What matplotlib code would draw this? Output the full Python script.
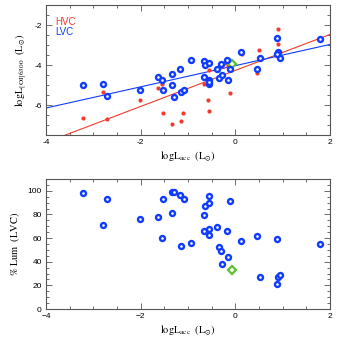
import matplotlib
matplotlib.use("Agg")
import matplotlib.pyplot as plt
import numpy as np
from matplotlib.ticker import MultipleLocator, FuncFormatter

plt.rcParams['mathtext.fontset'] = 'stix'
plt.rcParams['font.family'] = ['Liberation Sans', 'DejaVu Sans']

# ---- data ----
# LVC: log L_acc, log L[OI]6300 (LVC), % Lum (LVC)
lvc_lacc = [-3.21, -2.79, -2.72, -2.02, -1.64, -1.54, -1.52, -1.33, -1.33, -1.29,
            -1.16, -1.14, -1.09, -0.94, -0.67, -0.64, -0.67, -0.56, -0.56, -0.56,
            -0.56, -0.39, -0.35, -0.30, -0.28, -0.17, -0.16, -0.12, 0.11, 0.46,
            0.52, 0.88, 0.90, 0.94, 0.88, 1.79]
lvc_loi = [-4.99, -4.94, -5.57, -5.25, -4.61, -4.74, -5.26, -4.45, -4.99, -5.60,
           -4.20, -5.36, -5.26, -3.73, -3.81, -3.98, -4.59, -3.92, -4.74, -4.96,
           -4.85, -4.20, -4.66, -3.95, -4.49, -3.75, -4.76, -4.22, -3.36, -4.20,
           -3.65, -2.64, -3.36, -3.65, -3.44, -2.69]
lvc_pct = [97.8, 70.8, 93.3, 75.8, 77.5, 60.1, 93.3, 81.5, 98.6, 98.9,
           96.6, 53.7, 92.7, 56.2, 79.5, 87.1, 66.0, 95.5, 89.3, 67.7,
           62.9, 69.1, 52.5, 48.9, 37.9, 66.0, 44.4, 91.0, 57.6, 62.1,
           27.0, 59.0, 27.5, 28.7, 21.3, 55.1]

# HVC: log L_acc, log L[OI]6300 (HVC)
hvc_lacc = [-3.22, -2.79, -2.72, -2.02, -1.64, -1.54, -1.52, -1.33, -1.33, -1.15,
            -1.10, -1.15, -0.93, -0.67, -0.56, -0.57, -0.56, -0.35, -0.30, -0.29,
            -0.21, -0.12, 0.13, 0.46, 0.50, 0.89, 0.91, 0.94, 1.80, -0.16]
hvc_loi = [-6.64, -5.33, -6.72, -5.75, -5.14, -4.93, -6.42, -6.95, -5.00, -6.81,
           -6.38, -4.19, -3.82, -4.96, -4.24, -5.77, -6.31, -4.63, -4.49, -4.04,
           -3.90, -5.38, -3.44, -4.40, -3.23, -2.94, -2.22, -3.36, -2.69, -4.04]

# special object (green)
green_lacc = [-0.08]
green_loi = [-3.95]
green_pct = [32.6]

# linear fits: slope, intercept
hvc_fit = [0.90, -4.27]
lvc_fit = [0.53, -4.03]

BLUE = '#0f3cff'
RED = '#f23a2e'
GREEN = '#5cc130'
SPINE = '#555555'

fig = plt.figure(figsize=(3.41, 3.48), dpi=100)
ax1 = fig.add_axes([0.135, 0.612, 0.833, 0.3736])
ax2 = fig.add_axes([0.135, 0.112, 0.833, 0.3736])

circ = dict(marker='o', ms=3.6, mew=1.7, mfc='white', mec=BLUE, ls='none')

# ---- top panel ----
xl = np.array([-4.0, 2.0])
ax1.plot(xl, hvc_fit[0] * xl + hvc_fit[1], color=RED, lw=0.8, zorder=2)
ax1.plot(xl, lvc_fit[0] * xl + lvc_fit[1], color=BLUE, lw=0.8, zorder=2)
ax1.plot(hvc_lacc, hvc_loi, marker='o', ms=3.0, mew=0, color=RED, ls='none', zorder=3)
ax1.plot(green_lacc, green_loi, marker='D', ms=3.6, mew=1.6, mfc='white', mec=GREEN, ls='none', zorder=3)
ax1.plot(lvc_lacc, lvc_loi, zorder=4, **circ)
ax1.set_xlim(-4, 2)
ax1.set_ylim(-7.5, -1)
ax1.yaxis.set_major_locator(MultipleLocator(2))
ax1.yaxis.set_minor_locator(MultipleLocator(0.5))
hyph = FuncFormatter(lambda v, p: '%d' % round(v))
ax1.xaxis.set_major_formatter(hyph)
ax1.yaxis.set_major_formatter(hyph)
ax1.text(0.032, 0.87, 'HVC', color=RED, fontsize=7, transform=ax1.transAxes, va='center')
ax1.text(0.032, 0.79, 'LVC', color=BLUE, fontsize=7, transform=ax1.transAxes, va='center')
ax1.set_ylabel(r'$\mathrm{logL_{[OI]6300}\ \ (L_{\odot})}$', fontsize=7.5, labelpad=4)

# ---- bottom panel ----
ax2.plot(lvc_lacc, lvc_pct, zorder=4, **circ)
ax2.plot(green_lacc, green_pct, marker='D', ms=3.6, mew=1.6, mfc='white', mec=GREEN, ls='none', zorder=3)
ax2.set_xlim(-4, 2)
ax2.set_ylim(0, 110)
ax2.yaxis.set_major_locator(MultipleLocator(20))
ax2.yaxis.set_minor_locator(MultipleLocator(5))
ax2.set_ylabel(r'$\mathrm{\%\ Lum\ \ (LVC)}$', fontsize=7.5, labelpad=4)

for ax in (ax1, ax2):
    ax.xaxis.set_major_locator(MultipleLocator(2))
    ax.xaxis.set_minor_locator(MultipleLocator(0.5))
    ax.set_xlabel(r'$\mathrm{logL_{acc}\ \ (L_{\odot})}$', fontsize=7.5, labelpad=3)
    ax.tick_params(which='both', direction='in', top=True, right=True,
                   labelsize=6, color=SPINE, width=0.6, pad=3)
    ax.tick_params(which='major', length=4)
    ax.tick_params(which='minor', length=2)
    for s in ax.spines.values():
        s.set_color(SPINE)
        s.set_linewidth(0.8)

fig.savefig('out.png', dpi=100)
